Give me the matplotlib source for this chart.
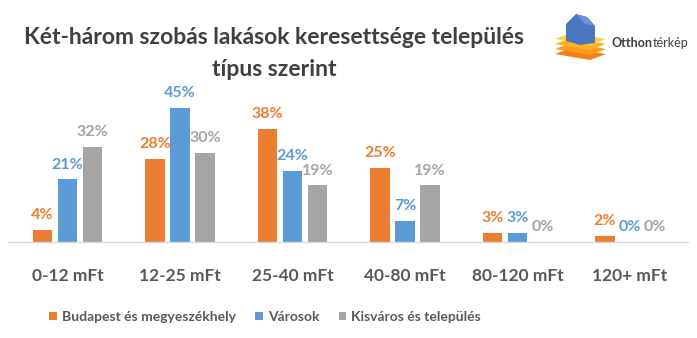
import matplotlib.pyplot as plt
from matplotlib.patches import Polygon
import numpy as np

plt.rcParams['font.family'] = ['Lato', 'DejaVu Sans']

categories = ['0-12 mFt', '12-25 mFt', '25-40 mFt', '40-80 mFt', '80-120 mFt', '120+ mFt']
series_names = ['Budapest és megyeszékhely', 'Városok', 'Kisváros és település']
budapest = [4, 28, 38, 25, 3, 2]
varosok = [21, 45, 24, 7, 3, 0]
kisvaros = [32, 30, 19, 19, 0, 0]

colors = ['#ED7D31', '#5B9BD5', '#A5A5A5']
text_dark = '#595959'

W, H = 697, 338
fig = plt.figure(figsize=(W / 100, H / 100), dpi=100)

# main bar axes, placed in pixel terms
ax_left, ax_right, ax_bottom, ax_top = 8, 688, 242, 80
ax = fig.add_axes([ax_left / W, 1 - ax_bottom / H,
                   (ax_right - ax_left) / W, (ax_bottom - ax_top) / H])

x = np.arange(len(categories))
width = 0.17
offset = 0.222
for i, (vals, col) in enumerate(zip([budapest, varosok, kisvaros], colors)):
    pos = x + (i - 1) * offset
    bars = ax.bar(pos, vals, width=width, color=col, label=series_names[i], zorder=2)
    for xp, v in zip(pos, vals):
        ax.text(xp, v + 2.6, f'{v}%', ha='center', va='bottom', color=col,
                fontsize=11.5, fontweight='bold')

ax.set_xlim(-0.529, 5.516)
ax.set_ylim(0, 54.4)
ax.set_yticks([])
ax.set_xticks(x)
ax.set_xticklabels(categories, fontsize=12.5, fontweight='bold', color=text_dark)
ax.tick_params(axis='x', length=0, pad=19)
for side in ['left', 'right', 'top']:
    ax.spines[side].set_visible(False)
ax.spines['bottom'].set_color('#D9D9D9')
ax.spines['bottom'].set_linewidth(1)

fig.legend(loc='center', bbox_to_anchor=(265 / W, 1 - 317 / H), ncol=3, frameon=False,
           prop={'weight': 'bold', 'size': 10}, handlelength=0.55,
           handleheight=0.55, handletextpad=0.35, columnspacing=1.4, labelcolor=text_dark)

fig.text(274 / W, 1 - 38 / H, 'Két-három szobás lakások keresettsége település',
         ha='center', va='center', fontsize=16.5, fontweight='bold', color='#404040')
fig.text(274 / W, 1 - 70 / H, 'típus szerint',
         ha='center', va='center', fontsize=16.5, fontweight='bold', color='#404040')

# logo in pixel coordinates
lax = fig.add_axes([0, 0, 1, 1], zorder=5)
lax.set_xlim(0, W)
lax.set_ylim(H, 0)
lax.axis('off')


def layer(y, col):
    pts = [(555, y), (571, y - 6), (606, y), (590, y + 6)]
    lax.add_patch(Polygon(pts, closed=True, color=col, lw=0))


layer(54, '#F57F17')
layer(49, '#FB9A1E')
layer(44, '#FFB21E')
layer(39, '#FFD24A')
# house
lax.add_patch(Polygon([(566, 41), (566, 24), (576, 14), (587, 17), (595, 26), (595, 43), (580, 45)],
                      closed=True, color='#4A76BE', lw=0))
lax.add_patch(Polygon([(576, 14), (587, 17), (595, 26), (585, 24)],
                      closed=True, color='#6A92D4', lw=0))
t1 = lax.text(612, 43, 'Otthon', ha='left', va='center', fontsize=9,
              fontweight='bold', color='#404040')
fig.canvas.draw()
bb = t1.get_window_extent()
x_end = bb.x1
lax.text(x_end, 43, 'térkép', ha='left', va='center', fontsize=9, color='#404040')

fig.savefig('out.png', dpi=100)
